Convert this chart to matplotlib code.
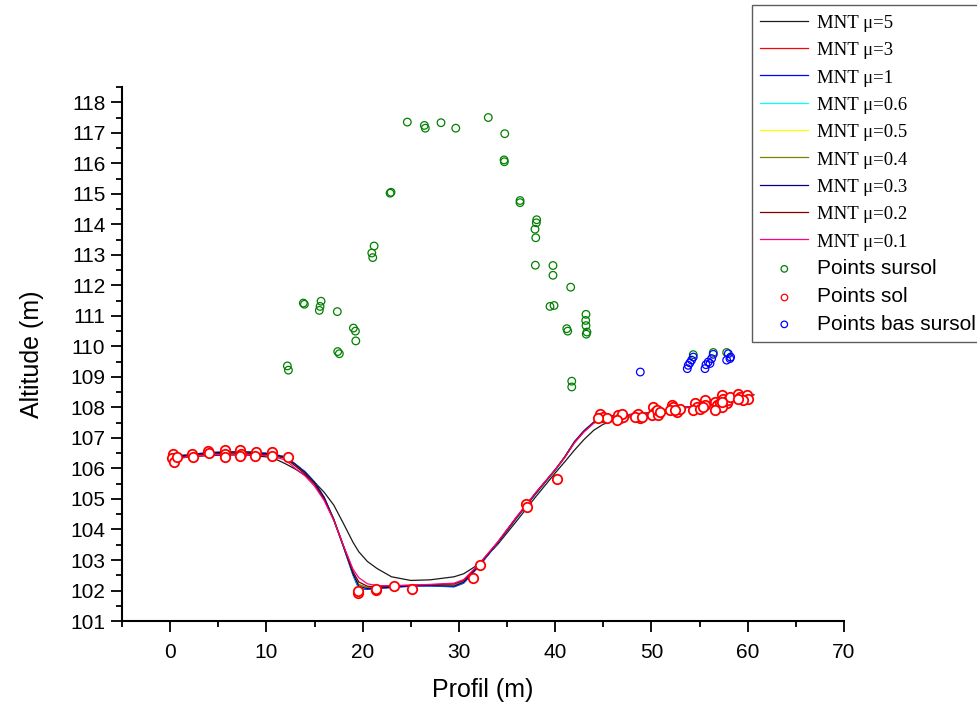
import matplotlib
matplotlib.use('Agg')
import matplotlib.pyplot as plt
from matplotlib.ticker import MultipleLocator

plt.rcParams['font.family'] = ['Liberation Sans', 'DejaVu Sans']

# MNT profiles (common x grid)
mnt_x = [0, 2, 4, 6, 8, 10, 11, 12, 13, 14, 15, 16, 17, 18, 19, 19.6, 20.5, 21.5, 23, 25, 27,
         29.5, 30.5, 32, 34, 36, 38, 40, 41, 42, 43, 44, 45, 47, 50, 52, 55, 58, 60.6]

mnt_mu5 = [106.30, 106.38, 106.42, 106.44, 106.44, 106.38, 106.30, 106.15, 105.98, 105.78, 105.55,
           105.22, 104.80, 104.20, 103.58, 103.27, 102.95, 102.72, 102.45, 102.33, 102.35, 102.45,
           102.55, 102.85, 103.50, 104.28, 105.08, 105.85, 106.22, 106.60, 106.95, 107.25, 107.45,
           107.65, 107.80, 107.92, 108.05, 108.25, 108.42]
mnt_mu3 = [106.36, 106.44, 106.50, 106.52, 106.52, 106.47, 106.42, 106.36, 106.12, 105.86, 105.52,
           105.02, 104.32, 103.44, 102.58, 102.18, 102.08, 102.08, 102.12, 102.16, 102.18, 102.18,
           102.30, 102.80, 103.56, 104.40, 105.20, 105.96, 106.38, 106.86, 107.22, 107.50, 107.68,
           107.74, 107.82, 107.94, 108.06, 108.26, 108.42]
mnt_mu1 = [106.38, 106.46, 106.52, 106.55, 106.55, 106.50, 106.45, 106.38, 106.15, 105.90, 105.56,
           105.06, 104.34, 103.44, 102.50, 102.06, 102.04, 102.06, 102.10, 102.14, 102.15, 102.12,
           102.24, 102.76, 103.54, 104.38, 105.18, 105.94, 106.38, 106.88, 107.24, 107.52, 107.70,
           107.75, 107.82, 107.94, 108.06, 108.26, 108.42]
mnt_mu06 = [106.37, 106.45, 106.51, 106.54, 106.54, 106.49, 106.44, 106.37, 106.14, 105.88, 105.54,
            105.04, 104.33, 103.44, 102.52, 102.10, 102.06, 102.07, 102.11, 102.15, 102.16, 102.14,
            102.26, 102.78, 103.55, 104.39, 105.19, 105.92, 106.37, 106.87, 107.23, 107.51, 107.69,
            107.74, 107.82, 107.94, 108.06, 108.26, 108.42]
mnt_mu05 = [106.37, 106.45, 106.51, 106.53, 106.53, 106.48, 106.43, 106.37, 106.13, 105.87, 105.53,
            105.03, 104.32, 103.46, 102.56, 102.16, 102.08, 102.08, 102.12, 102.16, 102.17, 102.16,
            102.28, 102.79, 103.56, 104.40, 105.20, 105.94, 106.38, 106.86, 107.22, 107.50, 107.68,
            107.74, 107.82, 107.94, 108.06, 108.26, 108.42]
mnt_mu04 = [106.36, 106.44, 106.50, 106.53, 106.53, 106.48, 106.43, 106.36, 106.12, 105.86, 105.52,
            105.02, 104.32, 103.47, 102.58, 102.20, 102.10, 102.09, 102.12, 102.16, 102.18, 102.17,
            102.29, 102.80, 103.56, 104.40, 105.20, 105.95, 106.38, 106.86, 107.22, 107.50, 107.68,
            107.74, 107.82, 107.94, 108.06, 108.26, 108.42]
mnt_mu03 = [106.37, 106.45, 106.51, 106.54, 106.54, 106.49, 106.44, 106.37, 106.14, 105.88, 105.55,
            105.05, 104.33, 103.45, 102.54, 102.14, 102.06, 102.07, 102.11, 102.15, 102.16, 102.14,
            102.27, 102.78, 103.55, 104.39, 105.19, 105.95, 106.38, 106.87, 107.23, 107.51, 107.69,
            107.75, 107.82, 107.94, 108.06, 108.26, 108.42]
mnt_mu02 = [106.34, 106.42, 106.48, 106.50, 106.50, 106.45, 106.40, 106.33, 106.08, 105.82, 105.48,
            104.99, 104.31, 103.47, 102.62, 102.28, 102.14, 102.12, 102.14, 102.17, 102.19, 102.22,
            102.33, 102.82, 103.57, 104.41, 105.21, 105.96, 106.37, 106.85, 107.21, 107.49, 107.67,
            107.74, 107.82, 107.94, 108.06, 108.26, 108.42]
mnt_mu01 = [106.30, 106.38, 106.44, 106.46, 106.46, 106.42, 106.36, 106.28, 106.00, 105.76, 105.42,
            104.95, 104.30, 103.48, 102.70, 102.42, 102.22, 102.16, 102.16, 102.18, 102.20, 102.24,
            102.36, 102.84, 103.58, 104.42, 105.22, 105.96, 106.36, 106.84, 107.20, 107.48, 107.66,
            107.74, 107.82, 107.94, 108.06, 108.26, 108.42]

mnt_labels = ['MNT \u03bc=5', 'MNT \u03bc=3', 'MNT \u03bc=1', 'MNT \u03bc=0.6', 'MNT \u03bc=0.5',
              'MNT \u03bc=0.4', 'MNT \u03bc=0.3', 'MNT \u03bc=0.2', 'MNT \u03bc=0.1']
mnt_colors = ['#1a1a1a', '#ff0000', '#0000ff', '#00ffff', '#ffff00',
              '#808000', '#000080', '#800000', '#ff0080']

# Points above ground (sursol)
sursol_x = [24.64, 26.41, 26.51, 28.14, 29.67, 33.05, 34.76, 34.69, 34.72, 22.85, 22.95, 36.35, 36.35,
            21.19, 20.95, 21.05, 38.08, 38.04, 37.90, 37.98, 37.94, 39.77, 39.77, 41.61, 13.84, 13.95,
            15.68, 15.58, 15.50, 17.37, 39.46, 39.88, 43.20, 43.17, 43.20, 43.30, 43.23, 41.20, 41.30,
            19.04, 19.25, 19.29, 17.41, 17.58, 41.72, 41.72, 12.18, 12.29, 54.34, 56.42, 57.81]
sursol_y = [117.35, 117.24, 117.15, 117.33, 117.15, 117.50, 116.97, 116.11, 116.05, 115.02, 115.05,
            114.78, 114.71, 113.29, 113.06, 112.91, 114.15, 114.05, 113.84, 113.56, 112.66, 112.65,
            112.33, 111.94, 111.42, 111.38, 111.48, 111.31, 111.18, 111.14, 111.31, 111.34, 111.05,
            110.85, 110.68, 110.47, 110.40, 110.58, 110.50, 110.60, 110.50, 110.18, 109.83, 109.76,
            108.86, 108.67, 109.36, 109.22, 109.73, 109.80, 109.80]

# Ground points (sol)
sol_x = [0.28, 0.17, 0.42, 0.69, 2.32, 2.36, 3.98, 4.05, 5.71, 5.71, 5.74, 7.30, 7.34, 7.30,
         8.93, 8.86, 10.59, 10.56, 12.25, 19.49, 19.55, 21.36, 21.39, 23.23, 25.13, 31.43, 32.20,
         36.97, 37.04, 40.22, 44.66, 45.00, 45.35, 44.48, 46.56, 46.73, 47.08, 46.91, 46.39,
         48.47, 48.81, 48.63, 48.29, 48.99, 50.19, 50.37, 50.03, 50.71, 50.54, 50.89,
         52.10, 52.27, 51.93, 52.62, 52.97, 52.45, 54.52, 54.70, 54.35, 55.04, 55.56, 55.56, 55.38,
         56.60, 56.78, 57.12, 57.64, 57.82, 57.30, 56.60, 57.30, 57.46, 57.98, 58.16, 57.30,
         59.02, 59.20, 59.89, 60.06, 59.54, 59.02]
sol_y = [106.47, 106.33, 106.22, 106.36, 106.46, 106.36, 106.58, 106.49, 106.60, 106.47, 106.36,
         106.60, 106.47, 106.41, 106.55, 106.41, 106.55, 106.40, 106.36, 101.91, 101.98, 102.02,
         102.06, 102.15, 102.04, 102.41, 102.83, 104.83, 104.74, 105.67, 107.80, 107.69, 107.64,
         107.64, 107.74, 107.64, 107.69, 107.80, 107.58, 107.74, 107.64, 107.80, 107.69, 107.69,
         108.02, 107.85, 107.74, 107.74, 107.91, 107.85, 108.07, 108.02, 107.91, 107.85, 107.96,
         107.91, 108.13, 108.02, 107.91, 107.96, 108.24, 108.07, 108.02, 108.18, 108.07, 108.13,
         108.24, 108.13, 108.02, 107.91, 108.40, 108.29, 108.24, 108.34, 108.18, 108.45, 108.34,
         108.40, 108.29, 108.24, 108.29]

# Low points above ground (bas sursol)
bas_x = [48.84, 54.34, 54.17, 53.99, 53.82, 53.72, 56.42, 56.25, 55.90, 55.66, 55.56, 56.08,
         57.98, 58.22, 57.81, 58.15]
bas_y = [109.16, 109.65, 109.55, 109.46, 109.38, 109.27, 109.74, 109.60, 109.49, 109.40, 109.27,
         109.44, 109.76, 109.65, 109.55, 109.60]

fig = plt.figure(figsize=(9.78, 7.05), dpi=100)
ax = fig.add_axes([0.1247, 0.1191, 0.7383, 0.7575])

mnt_series = [mnt_mu5, mnt_mu3, mnt_mu1, mnt_mu06, mnt_mu05, mnt_mu04, mnt_mu03, mnt_mu02, mnt_mu01]
for ys, lab, col in zip(mnt_series, mnt_labels, mnt_colors):
    ax.plot(mnt_x, ys, color=col, linewidth=0.9, label=lab, zorder=2)

ax.scatter(sursol_x, sursol_y, s=30, facecolors='none', edgecolors='#008000', linewidths=0.9,
           label='Points sursol', zorder=3)
ax.scatter(sol_x, sol_y, s=46, facecolors='white', edgecolors='#ff0000', linewidths=1.3,
           label='Points sol', zorder=4)
ax.scatter(bas_x, bas_y, s=30, facecolors='none', edgecolors='#0000ff', linewidths=0.9,
           label='Points bas sursol', zorder=3)

ax.set_xlim(-5, 70)
ax.set_ylim(101, 118.5)
ax.xaxis.set_major_locator(MultipleLocator(10))
ax.xaxis.set_minor_locator(MultipleLocator(5))
ax.yaxis.set_major_locator(MultipleLocator(1))
ax.yaxis.set_minor_locator(MultipleLocator(0.5))
ax.set_xticks(range(0, 71, 10))

for side in ['top', 'right']:
    ax.spines[side].set_visible(False)
for side in ['left', 'bottom']:
    ax.spines[side].set_linewidth(1.5)

ax.tick_params(which='major', direction='out', length=8, width=1.3, labelsize=15)
ax.tick_params(axis='x', which='major', pad=8)
ax.tick_params(axis='y', which='major', pad=4)
ax.tick_params(which='minor', direction='out', length=4, width=1.3)

ax.set_xlabel('Profil (m)', fontsize=18, labelpad=11)
ax.set_ylabel('Altitude (m)', fontsize=18, labelpad=19)

leg = ax.legend(loc='upper left', bbox_to_anchor=(752 / 978, 1 - 5 / 705),
                bbox_transform=fig.transFigure, borderaxespad=0, frameon=True, fancybox=False,
                edgecolor='#333333', fontsize=15, handlelength=2.3, handletextpad=0.4,
                labelspacing=0.42, borderpad=0.4, scatterpoints=1)
leg.get_frame().set_linewidth(1.0)
for i, t in enumerate(leg.get_texts()):
    if i < len(mnt_labels):
        t.set_family(['Liberation Serif', 'DejaVu Serif'])
        t.set_fontsize(13.5)
for h in leg.legend_handles[len(mnt_labels):]:
    h.set_sizes([22])
    h.set_linewidths(0.9)

fig.savefig('out.png', dpi=100)
